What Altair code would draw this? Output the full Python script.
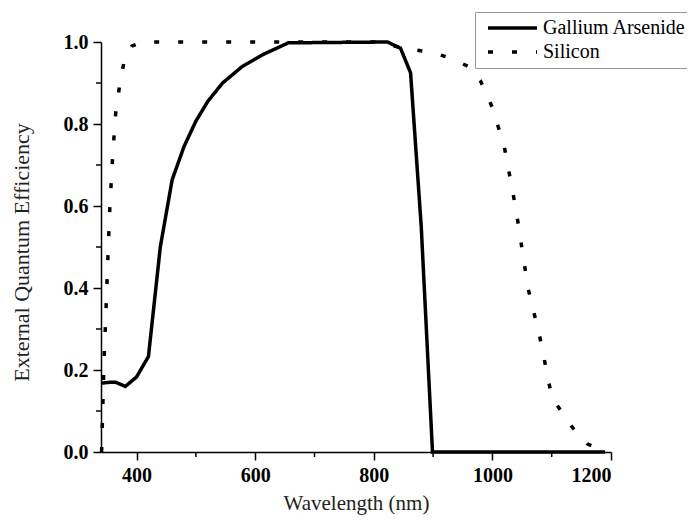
import altair as alt
import pandas as pd

# Gallium Arsenide (solid)
ga_wl = [341, 355, 365, 381, 400, 420, 440, 460, 480, 500, 520, 545, 578, 614, 656, 823, 845, 862, 880, 899, 1190]
ga_eqe = [0.168, 0.17, 0.17, 0.16, 0.183, 0.233, 0.5, 0.664, 0.745, 0.807, 0.855, 0.9, 0.94, 0.97, 0.998, 1.0, 0.985, 0.925, 0.55, 0.0, 0.0]

# Silicon (dotted)
si_wl = [341, 343, 345, 348, 351, 355, 360, 365, 372, 380, 392, 410, 800, 850, 900, 930, 960, 980, 1000, 1020, 1040, 1060, 1080, 1100, 1120, 1140, 1160, 1180, 1190]
si_eqe = [0.0, 0.11, 0.22, 0.33, 0.45, 0.6, 0.73, 0.83, 0.9, 0.96, 0.99, 1.0, 1.0, 0.985, 0.974, 0.96, 0.94, 0.905, 0.84, 0.745, 0.59, 0.40, 0.28, 0.135, 0.09, 0.05, 0.02, 0.007, 0.0]

series_names = ["Gallium Arsenide", "Silicon"]
x_ticks = [400, 600, 800, 1000, 1200]
x_minor = [500, 700, 900, 1100]
y_ticks = [0.0, 0.2, 0.4, 0.6, 0.8, 1.0]
y_minor = [0.1, 0.3, 0.5, 0.7, 0.9]

df = pd.concat([
    pd.DataFrame({"wl": ga_wl, "eqe": ga_eqe, "series": series_names[0]}),
    pd.DataFrame({"wl": si_wl, "eqe": si_eqe, "series": series_names[1]}),
])

FONT = "Liberation Serif"
xscale = alt.Scale(domain=[340, 1200], nice=False, zero=False)
yscale = alt.Scale(domain=[0, 1], nice=False)

x_axis = alt.Axis(
    title="Wavelength (nm)", values=x_ticks, format="d",
    titleX=255, titleY=57, titleBaseline="alphabetic", titleAlign="center",
    titleFontSize=21)
y_axis = alt.Axis(
    title="External Quantum Efficiency", values=y_ticks, format=".1f",
    titleX=-80, titleY=210, titleBaseline="middle", titleAlign="center",
    titleFontSize=22)

lines = alt.Chart(df).mark_line(strokeWidth=3.5, color="black").encode(
    x=alt.X("wl:Q", scale=xscale, axis=x_axis),
    y=alt.Y("eqe:Q", scale=yscale, axis=y_axis),
    strokeDash=alt.StrokeDash(
        "series:N",
        scale=alt.Scale(domain=series_names, range=[[1, 0], [5, 19]]),
        legend=alt.Legend(
            title=None, orient="none", legendX=374, legendY=-30,
            symbolType="stroke", symbolSize=2401, symbolStrokeWidth=3.5,
            symbolStrokeColor="black", symbolOffset=6, labelOffset=4,
            clipHeight=22, rowPadding=2, padding=5,
            labelFont=FONT, labelFontSize=20, labelColor="black",
            strokeColor="#999999", fillColor="white",
        ),
    ),
)

xminor = alt.Chart(pd.DataFrame({"v": x_minor})).mark_rule(color="black", strokeWidth=1.5).encode(
    x=alt.X("v:Q", scale=xscale, axis=x_axis),
    y=alt.value(410), y2=alt.value(415),
)
yminor = alt.Chart(pd.DataFrame({"v": y_minor})).mark_rule(color="black", strokeWidth=1.5).encode(
    y=alt.Y("v:Q", scale=yscale, axis=y_axis),
    x=alt.value(-5), x2=alt.value(0),
)

chart = alt.layer(lines, xminor, yminor).properties(
    width=510, height=410,
    autosize=alt.AutoSizeParams(type="none"),
    padding={"left": 93, "top": 34, "right": 76, "bottom": 64},
).configure(font=FONT).configure_view(stroke=None).configure_axis(
    grid=False, domainColor="black", domainWidth=1.5, tickColor="black",
    tickWidth=1.5, tickSize=8, labelFont=FONT, labelFontWeight="bold",
    labelFontSize=20, labelColor="black", labelPadding=5,
    titleFont=FONT, titleFontWeight="normal", titleColor="#222222",
).configure_legend(labelFont=FONT, labelFontSize=20)

chart.save("out.html", embed_options={"renderer": "svg", "actions": False})
